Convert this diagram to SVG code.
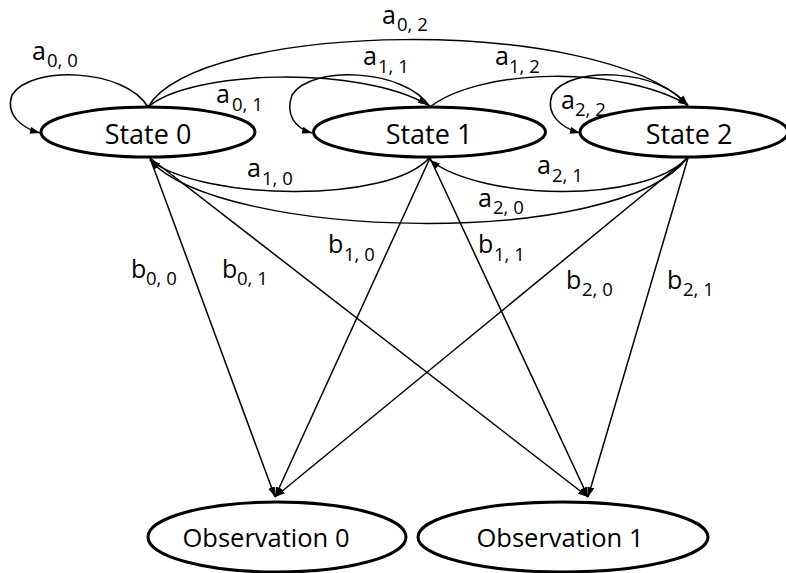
<svg xmlns="http://www.w3.org/2000/svg" width="786" height="573" viewBox="0 0 786 573">
<style>
.node{fill:#fff;stroke:#000;stroke-width:3}
.nt{font-family:"Open Sans","Liberation Sans",sans-serif;font-size:27px;fill:#000;text-anchor:middle}
.ot{font-family:"Open Sans","Liberation Sans",sans-serif;font-size:25.5px;fill:#000;text-anchor:middle}
.e{fill:none;stroke:#000;stroke-width:1.5;marker-end:url(#ah)}
.lb{font-family:"Open Sans","Liberation Sans",sans-serif;font-size:25px;fill:#000}
.sb{font-size:18.5px}
</style>
<defs>
<marker id="ah" viewBox="0 0 10 7" refX="10" refY="3.5" markerWidth="10" markerHeight="7" markerUnits="userSpaceOnUse" orient="auto">
<path d="M0,0 L10,3.5 L0,7 z" fill="#000"/>
</marker>
</defs>
<rect width="786" height="573" fill="#fff"/>
<g id="connectors">
<path class="e" d="M148,107 C125,68 30,65 12,95 C5,115 22,128 40,133"/>
<path class="e" d="M430,107 C405,68 310,65 292,95 C285,115 295,128 312,133"/>
<path class="e" d="M688,107 C663,68 568,65 552,95 C545,115 562,128 580,133"/>
<path class="e" d="M148,107 C190,70 360,65 428,105"/>
<path class="e" d="M148,107 C200,20 600,15 688,105"/>
<path class="e" d="M430,107 C480,68 620,65 688,105"/>
<path class="e" d="M430,157 C390,205 200,200 150,160"/>
<path class="e" d="M688,157 C645,205 480,200 430,160"/>
<path class="e" d="M688,157 C620,250 220,240 150,160"/>
<path class="e" d="M150,158 L275,497"/>
<path class="e" d="M150,158 L588,497"/>
<path class="e" d="M430,158 L275,497"/>
<path class="e" d="M430,158 L588,497"/>
<path class="e" d="M688,158 L275,497"/>
<path class="e" d="M688,158 L588,497"/>
</g>
<g id="state0"><ellipse class="node" cx="148" cy="132" rx="107" ry="25"/><text class="nt" x="148" y="144">State 0</text></g>
<g id="state1"><ellipse class="node" cx="429.5" cy="132" rx="116" ry="25"/><text class="nt" x="429" y="144">State 1</text></g>
<g id="state2"><ellipse class="node" cx="684" cy="132" rx="104" ry="25"/><text class="nt" x="689" y="144">State 2</text></g>
<g id="obs0"><ellipse class="node" cx="277" cy="537" rx="129" ry="35"/><text class="ot" x="266" y="547">Observation 0</text></g>
<g id="obs1"><ellipse class="node" cx="563" cy="537" rx="145" ry="35"/><text class="ot" x="560" y="547">Observation 1</text></g>
<g id="labels">
<text class="lb" x="32" y="60">a<tspan class="sb" x="47" y="67">0, 0</tspan></text>
<text class="lb" x="216" y="103">a<tspan class="sb" x="232" y="111">0, 1</tspan></text>
<text class="lb" x="247" y="177">a<tspan class="sb" x="262" y="185">1, 0</tspan></text>
<text class="lb" x="382" y="24">a<tspan class="sb" x="397" y="31">0, 2</tspan></text>
<text class="lb" x="363" y="65">a<tspan class="sb" x="378" y="73">1, 1</tspan></text>
<text class="lb" x="495" y="65">a<tspan class="sb" x="509" y="73">1, 2</tspan></text>
<text class="lb" x="561" y="109">a<tspan class="sb" x="575" y="116">2, 2</tspan></text>
<text class="lb" x="537" y="174">a<tspan class="sb" x="552" y="182">2, 1</tspan></text>
<text class="lb" x="478" y="207">a<tspan class="sb" x="493" y="214">2, 0</tspan></text>
<text class="lb" x="131" y="278">b<tspan class="sb" x="146" y="285">0, 0</tspan></text>
<text class="lb" x="222" y="278">b<tspan class="sb" x="237" y="285">0, 1</tspan></text>
<text class="lb" x="328" y="253">b<tspan class="sb" x="344" y="261">1, 0</tspan></text>
<text class="lb" x="478" y="253">b<tspan class="sb" x="494" y="261">1, 1</tspan></text>
<text class="lb" x="566" y="289">b<tspan class="sb" x="582" y="296">2, 0</tspan></text>
<text class="lb" x="667" y="289">b<tspan class="sb" x="683" y="296">2, 1</tspan></text>
</g>
</svg>
